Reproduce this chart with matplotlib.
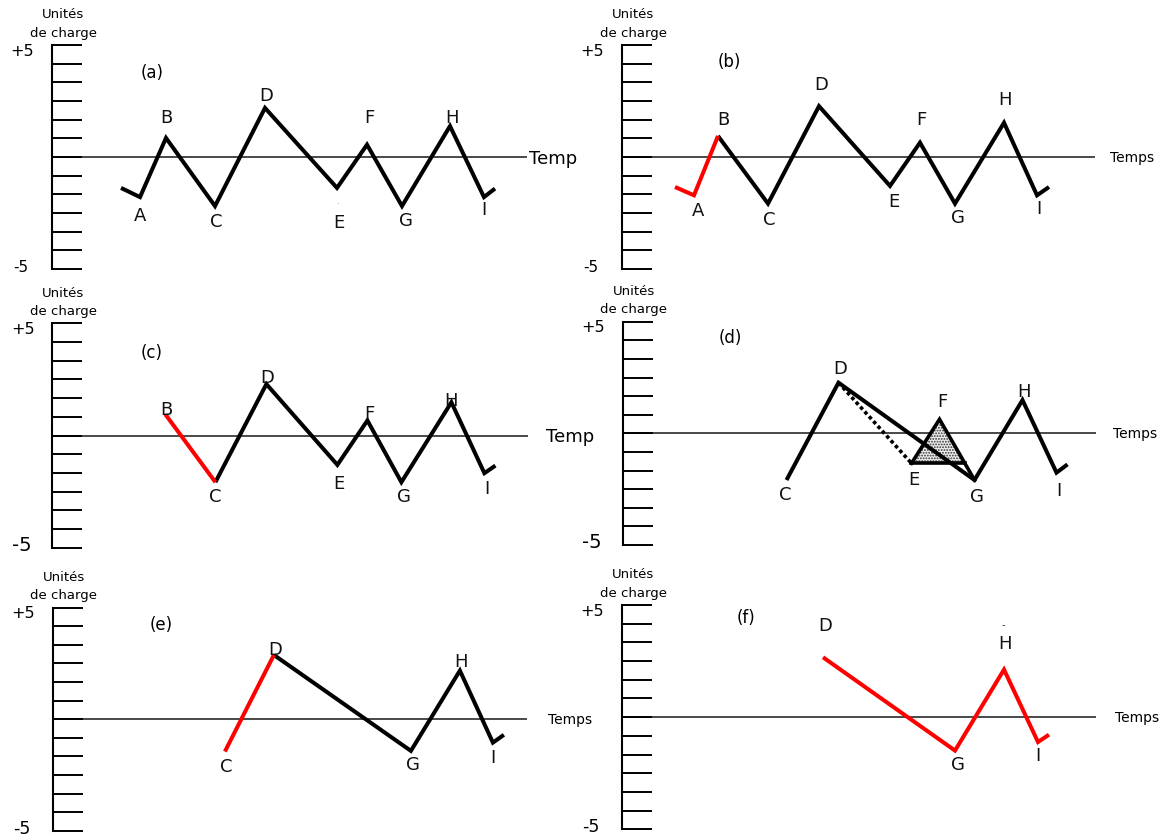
import numpy as np
import matplotlib
matplotlib.use("Agg")
import matplotlib.pyplot as plt

plt.rcParams["font.family"] = ["DejaVu Sans"]
plt.rcParams["hatch.linewidth"] = 0.9
plt.rcParams["hatch.color"] = "#333333"

W, H = 1168, 839

# ---------------------------------------------------------------------------
# Load history: turning points (time in arbitrary units, load in charge units)
# ---------------------------------------------------------------------------
a_points = ["", "A", "B", "C", "D", "E", "F", "G", "H", "I", ""]
a_time = [6.9, 8.8, 11.4, 16.3, 21.3, 28.5, 31.5, 35.0, 39.8, 43.2, 44.3]
a_load = [-1.38, -1.79, 0.85, -2.19, 2.19, -1.38, 0.55, -2.19, 1.38, -1.79, -1.41]

b_points = ["", "A", "B", "C", "D", "E", "F", "G", "H", "I", ""]
b_time = [5.3, 7.2, 9.6, 14.6, 19.7, 26.8, 29.8, 33.3, 38.2, 41.5, 42.7]
b_load = [-1.34, -1.71, 0.94, -2.08, 2.27, -1.29, 0.64, -2.08, 1.53, -1.71, -1.34]

c_points = ["B", "C", "D", "E", "F", "G", "H", "I", ""]
c_time = [11.3, 16.3, 21.4, 28.5, 31.5, 34.9, 39.9, 43.2, 44.3]
c_load = [0.94, -2.08, 2.29, -1.31, 0.67, -2.08, 1.48, -1.68, -1.34]

d_points = ["C", "D", "E", "F", "G", "H", "I", ""]
d_time = [16.4, 21.6, 28.9, 31.7, 35.2, 40.0, 43.4, 44.5]
d_load = [-2.09, 2.27, -1.34, 0.63, -2.09, 1.49, -1.76, -1.39]

e_points = ["C", "D", "G", "H", "I", ""]
e_time = [17.2, 22.1, 35.8, 40.7, 44.0, 45.1]
e_load = [-1.45, 2.88, -1.42, 2.18, -1.05, -0.70]

f_points = ["D", "G", "H", "I", ""]
f_time = [20.1, 33.3, 38.2, 41.6, 42.7]
f_load = [2.67, -1.49, 2.12, -1.11, -0.78]

tick_values = np.linspace(-5, 5, 13)

# ---------------------------------------------------------------------------
# Panel layout (pixels): axis x, axis top, axis bottom, end of time line
# ---------------------------------------------------------------------------
layout = {
    "a": dict(frame=(52, 45, 269, 527), tag=(152, 73), tlabel="Temp", tsize=13,
              tgap=2, m5=11,
              offs={"A": (0, -17), "B": (0, 22), "C": (1, -14), "D": (1, 14),
                    "E": (2, -33), "F": (2, 29), "G": (4, -13), "H": (2, 10),
                    "I": (0, -11)}),
    "b": dict(frame=(622, 45, 269, 1095), tag=(729, 62), tlabel="Temps", tsize=10,
              tgap=15, m5=11,
              offs={"A": (4, -14), "B": (5, 18), "C": (1, -14), "D": (2, 23),
                    "E": (4, -14), "F": (1, 25), "G": (3, -12), "H": (1, 25),
                    "I": (2, -12)}),
    "c": dict(frame=(52.4, 323.3, 547.7, 528), tag=(152, 353), tlabel="Temp", tsize=13,
              tgap=18, m5=14,
              offs={"B": (1, 6), "C": (0, -13), "D": (1, 8), "E": (1, -17),
                    "F": (2, 8), "G": (3, -13), "H": (0, 3), "I": (2, -14)}),
    "d": dict(frame=(622.5, 321.7, 545, 1095.7), tag=(730, 338), tlabel="Temps", tsize=10,
              tgap=17, m5=14,
              offs={"C": (-1, -13), "D": (2, 16), "E": (2, -15), "F": (3, 19),
                    "G": (2, -15), "H": (2, 10), "I": (2, -16)}),
    "e": dict(frame=(52.9, 607.7, 830.7, 526.8), tag=(161, 625), tlabel="Temps", tsize=10,
              tgap=21, m5=12.5,
              offs={"C": (1, -13), "D": (1, 7), "G": (2, -12), "H": (1, 11),
                    "I": (0, -13)}),
    "f": dict(frame=(622, 605, 829.3, 1095.8), tag=(746, 618), tlabel="Temps", tsize=10,
              tgap=19, m5=12.5,
              offs={"D": (2, 33), "G": (3, -12), "H": (1, 28), "I": (0, -12)}),
}

LW = 2.9
fig = plt.figure(figsize=(W / 100, H / 100), dpi=100)
fig.patch.set_facecolor("white")


def ftext(x, y, s, **kw):
    fig.text(x / W, 1 - y / H, s, **kw)


def make_axes(key):
    cfg = layout[key]
    x0, top, bot, x1 = cfg["frame"]
    ax = fig.add_axes([x0 / W, 1 - bot / H, (x1 - x0) / W, (bot - top) / H])
    ax.set_xlim(0, (x1 - x0) / 10)
    ax.set_ylim(-5, 5)
    ax.patch.set_alpha(0)
    for side in ("top", "right", "bottom"):
        ax.spines[side].set_visible(False)
    ax.spines["left"].set_linewidth(1.5)
    ax.set_xticks([])
    ax.set_yticks(tick_values)
    ax.tick_params(axis="y", direction="in", length=21.6, width=1.4,
                   color="black", labelleft=False)
    ax.axhline(0, color="#2a2a2a", lw=1.2, zorder=1)

    mid = (top + bot) / 2
    # axis title and end values
    ftext(x0 + 11, top - 30, "Unités", ha="center", va="center", fontsize=9.5)
    ftext(x0 + 11, top - 12, "de charge", ha="center", va="center", fontsize=9.5)
    ftext(x0 - 29.5, top + 6, "+5", ha="center", va="center", fontsize=11.5)
    ftext(x0 - 31, bot - 2, "-5", ha="center", va="center", fontsize=cfg["m5"])
    # time axis label
    cap = cfg["tsize"] / 72 * 100 * 0.729
    ftext(x1 + cfg["tgap"], mid + cap / 2, cfg["tlabel"], ha="left",
          va="baseline", fontsize=cfg["tsize"])
    # panel tag
    ftext(cfg["tag"][0], cfg["tag"][1], f"({key})", ha="center", va="center",
          fontsize=12)
    return ax


def name_points(ax, key, names, time, load):
    offs = layout[key]["offs"]
    for n, t, v in zip(names, time, load):
        if n:
            ax.annotate(n, (t, v), xytext=offs[n], textcoords="offset pixels",
                        ha="center", va="center_baseline", fontsize=13,
                        color="#111111")


def path(ax, time, load, color="black", **kw):
    ax.plot(time, load, color=color, lw=LW, solid_joinstyle="miter",
            solid_capstyle="butt", zorder=3, **kw)


# (a) full history
ax = make_axes("a")
path(ax, a_time, a_load)
name_points(ax, "a", a_points, a_time, a_load)
ax.annotate(".", (a_time[5], a_load[5]), xytext=(0, -14), textcoords="offset pixels",
            ha="center", va="center", fontsize=6, color="#777777")

# (b) first half-cycle A-B highlighted
ax = make_axes("b")
path(ax, b_time[2:], b_load[2:])
path(ax, b_time[:3], b_load[:3], color="red")
name_points(ax, "b", b_points, b_time, b_load)

# (c) half-cycle B-C highlighted
ax = make_axes("c")
path(ax, c_time[1:], c_load[1:])
path(ax, c_time[:2], c_load[:2], color="red")
name_points(ax, "c", c_points, c_time, c_load)

# (d) E-F cycle extracted from the D-G range
ax = make_axes("d")
iC, iD, iE, iF, iG = 0, 1, 2, 3, 4
# point on F-G at the level of E closes the extracted cycle
x_close = d_time[iF] + (d_load[iE] - d_load[iF]) / (d_load[iG] - d_load[iF]) * (
    d_time[iG] - d_time[iF])
ax.fill([d_time[iE], d_time[iF], x_close], [d_load[iE], d_load[iF], d_load[iE]],
        facecolor="#eeeeee", edgecolor="#333333", hatch="......", linewidth=0, zorder=2)
main = [iC, iD, iG, 5, 6, 7]
path(ax, [d_time[i] for i in main], [d_load[i] for i in main])
ax.plot([d_time[iE], d_time[iF], d_time[iG]], [d_load[iE], d_load[iF], d_load[iG]],
        color="black", lw=2.6, solid_joinstyle="miter", zorder=3)
ax.plot([d_time[iE], x_close], [d_load[iE], d_load[iE]], color="black", lw=2.6, zorder=3)
ax.plot([d_time[iD], d_time[iE]], [d_load[iD], d_load[iE]], color="black", lw=2.6,
        linestyle=(0, (1, 0.8)), zorder=3)
name_points(ax, "d", d_points, d_time, d_load)

# (e) half-cycle C-D highlighted
ax = make_axes("e")
path(ax, e_time[1:], e_load[1:])
path(ax, e_time[:2], e_load[:2], color="red")
name_points(ax, "e", e_points, e_time, e_load)

# (f) residual half-cycles
ax = make_axes("f")
path(ax, f_time, f_load, color="red")
name_points(ax, "f", f_points, f_time, f_load)
ax.annotate("-", (f_time[2], f_load[2]), xytext=(-1, 45), textcoords="offset pixels",
            ha="center", va="center", fontsize=7, color="#333333")

fig.savefig("out.png", dpi=100)
